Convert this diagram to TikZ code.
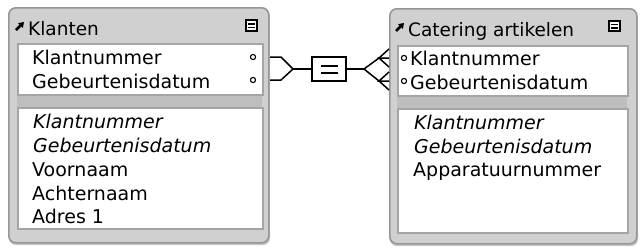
\documentclass[tikz,border=0pt]{standalone}
\usepackage{fontspec}
\setmainfont{DejaVu Sans}
\usetikzlibrary{arrows.meta}
\definecolor{tblfill}{RGB}{208,208,208}
\definecolor{tblborder}{RGB}{150,150,150}
\definecolor{panelborder}{RGB}{165,165,165}
\definecolor{bandfill}{RGB}{190,190,190}
\tikzset{
  tbl/.style={draw=tblborder, fill=tblfill, line width=1.6pt, rounded corners=7pt, anchor=north west, inner sep=0pt},
  panel/.style={draw=panelborder, fill=white, line width=1.8pt, anchor=north west, inner sep=0pt},
  band/.style={fill=bandfill, draw=none, anchor=north west, inner sep=0pt},
  fld/.style={anchor=base west, inner sep=0pt, font=\fontsize{19}{22}\selectfont},
  ifld/.style={fld, font=\fontsize{19}{22}\selectfont\itshape},
  ttl/.style={anchor=base west, inner sep=0pt, font=\fontsize{18.5}{22}\selectfont},
  keydot/.style={circle, draw=black, fill=white, line width=1.1pt, minimum size=5.2pt, inner sep=0pt},
  relbox/.style={draw=black, fill=white, line width=1.5pt, minimum width=34pt, minimum height=24pt, inner sep=0pt},
  conn/.style={draw=black, line width=1.5pt},
  minbox/.style={draw=black, fill=white, line width=2.2pt, minimum width=11pt, minimum height=10.5pt, inner sep=0pt},
  openicon/.style={draw=black, line width=2.6pt, -{Triangle[length=5pt,width=6.5pt]}},
}
\begin{document}
\begin{tikzpicture}[x=1pt,y=-1pt]
\useasboundingbox (0,0) rectangle (644,250);

% ---------- left table: Klanten ----------
\fill[gray!45, rounded corners=7pt] (9,10) rectangle (270,245);
\node[tbl, minimum width=260pt, minimum height=235pt] (klanten) at (8,7) {};
\node[band, minimum width=245pt, minimum height=14pt] (kband) at (17,93) {};
\node[panel, minimum width=245pt, minimum height=51pt] (kp1) at (17,43) {};
\node[panel, minimum width=245pt, minimum height=121pt] (kp2) at (17,107) {};
\draw[openicon] (16,30) -- (24,22);
\node[ttl] (kttl) at (28,35) {Klanten};
\node[minbox] (kmin) at (251.5,25.5) {};
\draw[line width=1.6pt] (248.3,23.8) -- (254.7,23.8) (248.3,27.3) -- (254.7,27.3);
\node[fld] (k1) at (32,64) {Klantnummer};
\node[fld] (k2) at (32,88) {Gebeurtenisdatum};
\node[keydot] (kd1) at (253,57) {};
\node[keydot] (kd2) at (253,80) {};
\node[ifld] (k3) at (33,128) {Klantnummer};
\node[ifld] (k4) at (33,152) {Gebeurtenisdatum};
\node[fld] (k5) at (32,176) {Voornaam};
\node[fld] (k6) at (32,200) {Achternaam};
\node[fld] (k7) at (32,223) {Adres 1};

% ---------- right table: Catering artikelen ----------
\fill[gray!45, rounded corners=7pt] (390,11) rectangle (638,246);
\node[tbl, minimum width=247pt, minimum height=235pt] (cat) at (389,8) {};
\node[band, minimum width=230pt, minimum height=14pt] (cband) at (397,94) {};
\node[panel, minimum width=230pt, minimum height=50pt] (cp1) at (397,45) {};
\node[panel, minimum width=230pt, minimum height=124pt] (cp2) at (397,108) {};
\draw[openicon] (396,31) -- (404,23);
\node[ttl] (cttl) at (408,36) {Catering artikelen};
\node[minbox] (cmin) at (614.5,26) {};
\draw[line width=1.6pt] (611.3,24.3) -- (617.7,24.3) (611.3,27.8) -- (617.7,27.8);
\node[keydot] (cd1) at (404,58) {};
\node[keydot] (cd2) at (404,81) {};
\node[fld] (c1) at (410,65) {Klantnummer};
\node[fld] (c2) at (410,89) {Gebeurtenisdatum};
\node[ifld] (c3) at (414,129) {Klantnummer};
\node[ifld] (c4) at (414,153) {Gebeurtenisdatum};
\node[fld] (c5) at (413,176) {Apparatuurnummer};

% ---------- relationship ----------
\node[relbox] (rel) at (329,69) {};
\draw[line width=2pt] (320.5,65.5) -- (337.5,65.5) (320.5,72.5) -- (337.5,72.5);

\coordinate (la) at (270,57);
\coordinate (lb) at (270,80);
\coordinate (lj) at (293,69);
\coordinate (ra) at (364,69);
\coordinate (u) at (379,58);
\coordinate (d) at (379,81);
\coordinate (u1) at (389,49);
\coordinate (u2) at (389,58);
\coordinate (u3) at (389,67);
\coordinate (d1) at (389,72);
\coordinate (d2) at (389,81);
\coordinate (d3) at (389,90);

\draw[conn] (la) -- (281,57) -- (lj) -- (281,80) -- (lb);
\draw[conn] (lj) -- (rel.west);
\draw[conn] (rel.east) -- (ra);
\draw[conn] (u1) -- (u) -- (ra) -- (d) -- (d3);
\draw[conn] (u2) -- (u) -- (u3);
\draw[conn] (d1) -- (d) -- (d2);
\end{tikzpicture}
\end{document}
